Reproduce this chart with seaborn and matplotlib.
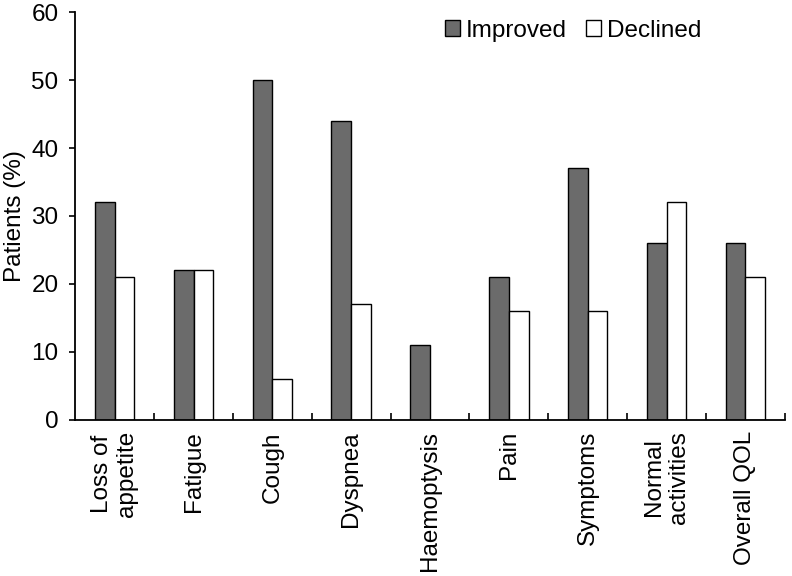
import matplotlib
matplotlib.use("Agg")
import matplotlib.pyplot as plt
import seaborn as sns
import pandas as pd
import numpy as np
from matplotlib.ticker import FixedLocator

categories = ["Loss of\nappetite", "Fatigue", "Cough", "Dyspnea", "Haemoptysis",
              "Pain", "Symptoms", "Normal\nactivities", "Overall QOL"]
improved = [32, 22, 50, 44, 11, 21, 37, 26, 26]
declined = [21, 22, 6, 17, 0, 16, 16, 32, 21]
series_names = ["Improved", "Declined"]

df = pd.DataFrame({
    "Category": categories * 2,
    "Value": improved + declined,
    "Series": [series_names[0]] * len(categories) + [series_names[1]] * len(categories),
})

sns.set_style("white")
plt.rcParams["font.family"] = ["Liberation Sans", "DejaVu Sans"]
plt.rcParams["text.color"] = "black"
plt.rcParams["axes.labelcolor"] = "black"
plt.rcParams["xtick.color"] = "black"
plt.rcParams["ytick.color"] = "black"
FS = 17.5

fig = plt.figure(figsize=(7.92, 5.76), dpi=100)
ax = fig.add_axes([0.095, 0.271, 0.896, 0.708])

sns.barplot(data=df, x="Category", y="Value", hue="Series", order=categories,
            hue_order=series_names, palette=["#6b6b6b", "#ffffff"], width=0.5,
            edgecolor="black", linewidth=1.0, dodge=True, ax=ax, saturation=1)

ax.set_xlim(-0.5, len(categories) - 0.5)
ax.set_ylim(0, 60)
ax.set_yticks(np.arange(0, 61, 10))
ax.set_ylabel("Patients (%)", fontsize=FS, labelpad=4, color="black")
ax.set_xlabel("")
ax.tick_params(axis="y", labelsize=FS, direction="out", length=4, width=1.2, left=True,
               pad=8, colors="black")
ax.tick_params(axis="x", labelsize=FS, length=0, rotation=90, pad=8, colors="black")
ax.xaxis.set_minor_locator(FixedLocator(np.arange(0.5, len(categories) + 0.5, 1)))
ax.tick_params(axis="x", which="minor", direction="in", length=5, width=1.2, bottom=True)

for s in ["top", "right"]:
    ax.spines[s].set_visible(False)
for s in ["left", "bottom"]:
    ax.spines[s].set_linewidth(1.3)
    ax.spines[s].set_color("black")

leg = ax.legend(loc="center", bbox_to_anchor=(0.724, 0.947), bbox_transform=fig.transFigure,
                ncol=2, frameon=False, fontsize=FS, handlelength=0.6, handleheight=0.6,
                handletextpad=0.25, columnspacing=0.8, borderpad=0)
for t in leg.get_texts():
    t.set_color("black")

fig.savefig("out.png", dpi=100)
